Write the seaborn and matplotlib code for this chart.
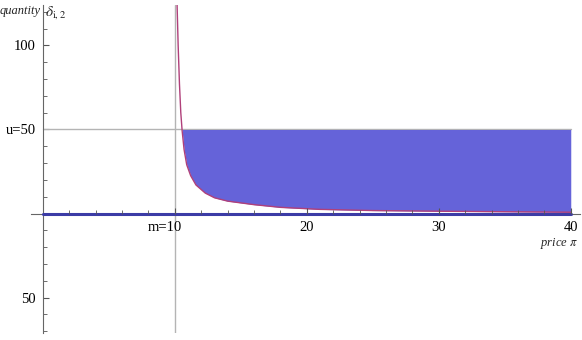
import numpy as np
import pandas as pd
import matplotlib
matplotlib.use("Agg")
import matplotlib.pyplot as plt
import matplotlib.transforms as mtransforms
import seaborn as sns

# demand curve δ_{i,2}
price = [10.17, 10.25, 10.35, 10.45, 10.55, 10.7, 10.9, 11.2, 11.6, 12.3,
         13.0, 14.0, 16.0, 18.0, 21.0, 25.0, 30.0, 35.0, 40.0]
quantity = [124, 100, 77, 60, 49.4, 38, 29, 22.5, 17, 12.2,
            9.4, 7.4, 5.3, 3.7, 2.5, 1.8, 1.4, 1.1, 0.8]
m = 10
u = 50
x_max = 40
xticks = [10, 20, 30, 40]
xticklabels = ["m=10", "20", "30", "40"]
yticks = [-50, 50, 100]
yticklabels = ["50", "u=50", "100"]

sns.set_style("white")
plt.rcParams["font.family"] = ["Liberation Serif", "DejaVu Serif"]
plt.rcParams["mathtext.fontset"] = "stix"

fig = plt.figure(figsize=(5.82, 3.40), dpi=100)
ax = fig.add_axes([31 / 582, 7 / 340, 549 / 582, 328 / 340])
ax.set_xlim(-0.9, 40.7)
ax.set_ylim(-71, 124)

df = pd.DataFrame({"price": price, "quantity": quantity})
q = np.array(quantity)
ax.fill_between(df["price"], df["quantity"], u, where=q <= u + 0.7,
                interpolate=True, color="#6563d9", lw=0, zorder=1.6)

# guide lines
ax.axhline(u, xmin=0.9 / 41.6, xmax=40.9 / 41.6, color="#b4b4b4", lw=1, zorder=1)
ax.axvline(m, color="#b4b4b4", lw=1, zorder=1)

sns.lineplot(data=df, x="price", y="quantity", ax=ax, color="#b0407a",
             lw=1, sort=False, estimator=None, zorder=3)
sns.lineplot(x=[0, x_max], y=[0, 0], ax=ax, color="#3c3ca6", lw=2.2, zorder=3)

for s in ["top", "right"]:
    ax.spines[s].set_visible(False)
ax.spines["left"].set_position(("data", 0))
ax.spines["bottom"].set_position(("data", 0))
for s in ["left", "bottom"]:
    ax.spines[s].set_color("#666666")
    ax.spines[s].set_linewidth(0.8)

ax.set_xticks(xticks)
ax.set_xticklabels(xticklabels)
ax.set_xticks([v for v in range(2, 41, 2) if v % 10], minor=True)
ax.set_yticks(yticks)
ax.set_yticklabels(yticklabels)
ax.set_yticks([v for v in range(-70, 121, 10) if v % 50], minor=True)
ax.tick_params(axis="both", which="both", bottom=True, left=True)
ax.tick_params(axis="both", which="major", direction="in", length=4.5,
               width=0.8, color="#555555", labelsize=10.5, labelcolor="black")
ax.tick_params(axis="both", which="minor", direction="in", length=3,
               width=0.6, color="#555555")
ax.tick_params(axis="x", which="major", pad=5)
ax.tick_params(axis="y", which="major", pad=5)
ax.xaxis.set_zorder(3.5)
ax.set_xlabel("")
ax.set_ylabel("")

# shift "m=10" a bit to the left like the original
lab = ax.get_xticklabels()[0]
lab.set_transform(lab.get_transform() + mtransforms.ScaledTranslation(-10 / 100, 0, fig.dpi_scale_trans))

ax.text(-0.2, 124, "quantity", ha="right", va="top", fontsize=9, style="italic")
ax.text(0.15, 124.5, r"$\delta_{\mathrm{i},2}$", ha="left", va="top", fontsize=11)
ax.text(40.6, -13.5, r"price $\pi$", ha="right", va="top", fontsize=9, style="italic")

fig.savefig("out.png", dpi=100)
